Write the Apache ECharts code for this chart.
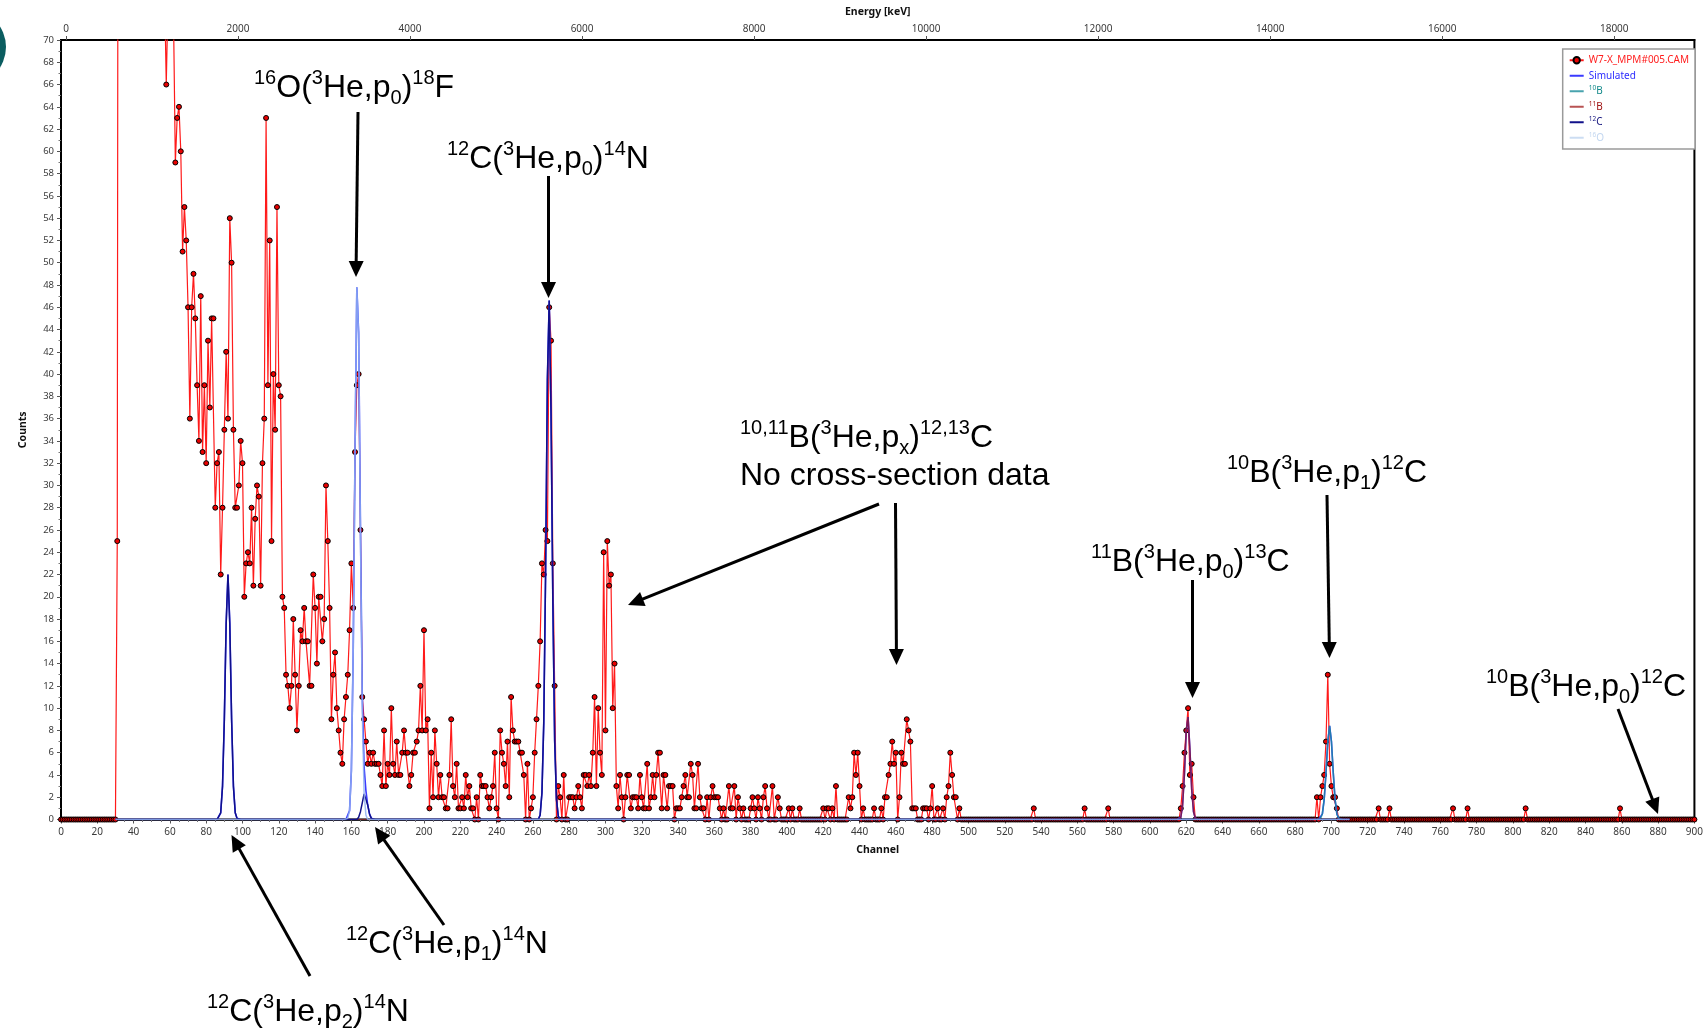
<!DOCTYPE html>
<html>
<head>
<meta charset="utf-8">
<title>W7-X MPM#005 spectrum</title>
<script src="https://cdn.jsdelivr.net/npm/echarts@6/dist/echarts.min.js"></script>
<style>
  html, body { margin: 0; padding: 0; background: #fff; }
  #chart { width: 1706px; height: 1033px; }
</style>
</head>
<body>
<div id="chart"></div>
<script>
// measured counts, one value per channel (index = channel), 20 channels per row
const counts = [
  0,0,0,0,0,0,0,0,0,0,0,0,0,0,0,0,0,0,0,0,                 // 0
  0,0,0,0,0,0,0,0,0,0,0,25,180,260,310,330,320,300,290,270, // 20
  250,240,220,200,190,170,160,150,140,130,120,112,105,98,92,86,80,75,66,74, // 40
  80,78,72,59,63,64,60,51,55,52,46,36,46,49,45,39,34,47,33,39, // 60
  32,43,37,45,45,28,32,33,22,28,35,42,36,54,50,35,28,28,30,34, // 80
  32,20,23,24,23,28,21,27,30,29,21,32,36,63,39,52,25,40,35,55, // 100
  39,38,20,19,13,12,10,12,18,13,8,12,17,16,19,16,16,12,12,22,  // 120
  19,14,20,20,16,18,30,25,19,9,13,15,10,8,6,5,9,11,13,17,      // 140
  23,19,33,39,40,26,11,9,7,5,6,5,6,5,5,5,4,3,8,3,              // 160
  5,4,10,5,4,7,4,4,6,8,6,6,3,4,6,6,7,8,12,8,                   // 180
  17,8,9,1,6,2,8,5,2,4,2,2,1,1,4,9,3,2,5,1,                    // 200
  1,2,1,4,2,3,1,1,0,2,0,4,3,3,3,2,1,2,3,6,                     // 220
  1,0,8,6,5,3,7,2,11,8,7,7,7,6,6,4,0,5,0,1,                    // 240
  2,6,9,12,16,23,22,26,25,46,43,23,12,0,3,2,0,4,0,0,           // 260
  2,2,2,1,2,3,2,1,4,4,3,4,3,6,11,3,10,6,4,24,                  // 280
  8,25,21,22,10,14,3,1,4,2,0,2,4,4,1,2,2,2,1,4,                // 300
  2,1,1,5,1,2,4,2,4,6,6,1,4,4,1,3,3,3,0,1,                     // 320
  1,1,2,3,4,2,2,5,4,1,1,5,2,1,1,0,2,0,2,3,                     // 340
  2,2,2,1,0,1,0,0,3,1,1,3,0,2,1,0,1,0,0,0,                     // 360
  1,2,1,0,2,1,0,2,3,1,0,0,3,0,0,2,1,0,0,0,                     // 380
  0,1,0,1,0,0,0,1,0,0,0,0,0,0,0,0,0,0,0,0,                     // 400
  1,0,1,1,0,1,0,3,0,0,0,0,0,0,2,1,2,6,4,6,                     // 420
  3,0,1,0,0,0,0,0,1,0,0,0,1,0,2,2,4,5,7,5,                     // 440
  6,0,2,6,5,5,9,8,7,1,1,1,0,0,0,1,1,1,0,1,                     // 460
  3,0,0,1,0,0,1,0,2,3,6,4,2,2,0,1,0,0,0,0,                     // 480
  0,0,0,0,0,0,0,0,0,0,0,0,0,0,0,0,0,0,0,0,                     // 500
  0,0,0,0,0,0,0,0,0,0,0,0,0,0,0,0,1,0,0,0,                     // 520
  0,0,0,0,0,0,0,0,0,0,0,0,0,0,0,0,0,0,0,0,                     // 540
  0,0,0,0,1,0,0,0,0,0,0,0,0,0,0,0,0,1,0,0,                     // 560
  0,0,0,0,0,0,0,0,0,0,0,0,0,0,0,0,0,0,0,0,                     // 580
  0,0,0,0,0,0,0,0,0,0,0,0,0,0,0,0,0,1,3,6,                     // 600
  8,10,4,5,2,0,0,0,0,0,0,0,0,0,0,0,0,0,0,0,                    // 620
  0,0,0,0,0,0,0,0,0,0,0,0,0,0,0,0,0,0,0,0,                     // 640
  0,0,0,0,0,0,0,0,0,0,0,0,0,0,0,0,0,0,0,0,                     // 660
  0,0,0,0,0,0,0,0,0,0,0,0,2,0,2,3,4,7,13,5,                    // 680
  3,2,2,1,0,0,0,0,0,0,0,0,0,0,0,0,0,0,0,0,                     // 700
  0,0,0,0,0,0,1,0,0,0,0,0,1,0,0,0,0,0,0,0,                     // 720
  0,0,0,0,0,0,0,0,0,0,0,0,0,0,0,0,0,0,0,0,                     // 740
  0,0,0,0,0,0,0,1,0,0,0,0,0,0,0,1,0,0,0,0,                     // 760
  0,0,0,0,0,0,0,0,0,0,0,0,0,0,0,0,0,0,0,0,                     // 780
  0,0,0,0,0,0,0,1,0,0,0,0,0,0,0,0,0,0,0,0,                     // 800
  0,0,0,0,0,0,0,0,0,0,0,0,0,0,0,0,0,0,0,0,                     // 820
  0,0,0,0,0,0,0,0,0,0,0,0,0,0,0,0,0,0,0,1,                     // 840
  0,0,0,0,0,0,0,0,0,0,0,0,0,0,0,0,0,0,0,0,                     // 860
  0,0,0,0,0,0,0,0,0,0,0,0,0,0,0,0,0,0,0,0,                     // 880
  0                                                            // 900
];

// simulated peaks: first channel + values per channel
const c12p2Start = 87;
const c12p2 = [0.1, 0.6, 3.0, 9.0, 17.6, 22.0, 17.6, 9.0, 3.0, 0.6, 0.1];
const o16Start = 158;
const o16 = [0.1, 0.8, 4.4, 15, 33, 47.8, 43.5, 25.5, 9.7, 2.4, 0.4];
const c12p1Start = 164;
const c12p1 = [0.2, 0.7, 1.5, 2.3, 2.2, 1.3, 0.5, 0.1];
const c12p0Start = 264;
const c12p0 = [0.4, 2.4, 8.7, 22, 39.5, 46.6, 36.5, 19.6, 7.1, 1.8, 0.3];
const b11Start = 617;
const b11 = [0.2, 1.3, 4.1, 7.9, 9.2, 6.4, 2.7, 0.7, 0.1];
const b10Start = 694;
const b10 = [0.1, 0.5, 1.8, 4.2, 7.0, 8.4, 7.0, 4.2, 1.8, 0.5, 0.1];
const simFrom = 30;
const simTo = 710;

// top axis ticks (keV)
const energyTicks = [0, 2000, 4000, 6000, 8000, 10000, 12000, 14000, 16000, 18000];
const energyAtCh0 = -58;
const energyAtCh900 = 18932;

// build component curves over the simulated range
function component(peaks) {
  const out = [];
  for (let ch = simFrom; ch <= simTo; ch++) {
    let v = 0;
    peaks.forEach(p => {
      const i = ch - p[0];
      if (i >= 0 && i < p[1].length) v += p[1][i];
    });
    out.push(v);
  }
  return out;
}
const b10Curve = component([[b10Start, b10]]);
const b11Curve = component([[b11Start, b11]]);
const c12Curve = component([[c12p2Start, c12p2], [c12p1Start, c12p1], [c12p0Start, c12p0]]);
const o16Curve = component([[o16Start, o16]]);
const simCurve = b10Curve.map((v, i) => v + b11Curve[i] + c12Curve[i] + o16Curve[i]);

const toPts = arr => arr.map((v, i) => [simFrom + i, v]);
const dataPts = counts.map((v, ch) => [ch, v]);

const myChart = echarts.init(document.getElementById('chart'));

// arrow annotation: shaft + filled head ending at (x2, y2)
function arrow(x1, y1, x2, y2) {
  const dx = x2 - x1, dy = y2 - y1;
  const len = Math.hypot(dx, dy), ux = dx / len, uy = dy / len;
  const hl = 16, hw = 7.5;
  const bx = x2 - ux * hl, by = y2 - uy * hl;
  return [
    { type: 'line', z: 100, shape: { x1: x1, y1: y1, x2: bx + ux, y2: by + uy },
      style: { stroke: '#000', lineWidth: 3 } },
    { type: 'polygon', z: 100,
      shape: { points: [[x2, y2], [bx - uy * hw, by + ux * hw], [bx + uy * hw, by - ux * hw]] },
      style: { fill: '#000' } }
  ];
}

const annFont = 'Arial, "Liberation Sans", sans-serif';
function label(x, y, text) {
  return {
    type: 'text', z: 100, x: x, y: y,
    style: {
      text: text, fill: '#000', font: '32px ' + annFont, lineHeight: 40,
      verticalAlign: 'top', align: 'left',
      rich: {
        sup: { fontSize: 20, lineHeight: 26, verticalAlign: 'top', fontFamily: annFont },
        sub: { fontSize: 20, lineHeight: 20, verticalAlign: 'bottom', fontFamily: annFont }
      }
    }
  };
}

const graphics = [
  { type: 'circle', z: 100, shape: { cx: -32, cy: 47, r: 38 }, style: { fill: '#0b5d60' } },
  label(254, 68, '{sup|16}O({sup|3}He,p{sub|0}){sup|18}F'),
  label(447, 139, '{sup|12}C({sup|3}He,p{sub|0}){sup|14}N'),
  label(740, 418, '{sup|10,11}B({sup|3}He,p{sub|x}){sup|12,13}C'),
  label(740, 456, 'No cross-section data'),
  label(1227, 453, '{sup|10}B({sup|3}He,p{sub|1}){sup|12}C'),
  label(1091, 542, '{sup|11}B({sup|3}He,p{sub|0}){sup|13}C'),
  label(1486, 667, '{sup|10}B({sup|3}He,p{sub|0}){sup|12}C'),
  label(346, 924, '{sup|12}C({sup|3}He,p{sub|1}){sup|14}N'),
  label(207, 992, '{sup|12}C({sup|3}He,p{sub|2}){sup|14}N'),
  ...arrow(358, 112, 356, 277),
  ...arrow(548.5, 176, 548.5, 298),
  ...arrow(879, 504, 628, 605),
  ...arrow(895.5, 503, 896.5, 665),
  ...arrow(1327, 495, 1329.5, 658),
  ...arrow(1192.5, 580, 1192.5, 698),
  ...arrow(1618, 709, 1658, 814),
  ...arrow(444, 925, 375, 827),
  ...arrow(310, 976, 231.5, 835)
];

const axisFont = '"Noto Sans", "Open Sans", sans-serif';
const legendColors = {
  'W7-X_MPM#005.CAM': '#ff1e1e',
  'Simulated': '#2d2dff',
  '10B': '#138a8a',
  '11B': '#a01515',
  '12C': '#14147e',
  '16O': '#c3d7f0'
};

const option = {
  animation: false,
  backgroundColor: '#fff',
  grid: { left: 61, right: 10, top: 40, bottom: 213.5, show: true, borderColor: '#000', borderWidth: 2 },
  legend: {
    orient: 'vertical', right: 11, top: 49,
    backgroundColor: '#fff', borderColor: '#9a9a9a', borderWidth: 1.5, borderRadius: 0,
    padding: [5, 6, 5, 6], itemGap: 3, itemWidth: 14, itemHeight: 8,
    textStyle: { fontFamily: axisFont, fontSize: 10, lineHeight: 12.5,
      rich: { s: { fontSize: 6.5, lineHeight: 9, verticalAlign: 'top' } } },
    formatter: name => {
      const m = name.match(/^(\d+)([A-Z].*)$/);
      return m ? '{s|' + m[1] + '}' + m[2] : name;
    },
    data: Object.keys(legendColors).map((n, i) => {
      const item = { name: n, textStyle: { color: legendColors[n] } };
      // only the measured spectrum shows a marker in the legend
      if (i > 0) item.itemStyle = { opacity: 0 };
      if (n === '16O') item.lineStyle = { color: legendColors[n] };
      return item;
    })
  },
  xAxis: [
    {
      type: 'value', position: 'bottom', min: 0, max: 900, interval: 20,
      name: 'Channel', nameLocation: 'middle', nameGap: 25,
      nameTextStyle: { fontFamily: axisFont, fontSize: 10.5, fontWeight: 'bold', color: '#111' },
      axisLine: { show: true, lineStyle: { color: '#000', width: 1.5 } },
      axisTick: { show: true, length: 4, lineStyle: { color: '#555' } },
      minorTick: { show: true, splitNumber: 4, length: 2.5, lineStyle: { color: '#777' } },
      axisLabel: { fontFamily: axisFont, fontSize: 10, color: '#3a3a3a', margin: 8 },
      splitLine: { show: false }
    },
    {
      type: 'value', position: 'top', min: energyAtCh0, max: energyAtCh900,
      name: 'Energy [keV]', nameLocation: 'middle', nameGap: 22,
      nameTextStyle: { fontFamily: axisFont, fontSize: 10.5, fontWeight: 'bold', color: '#111' },
      axisLine: { show: true, lineStyle: { color: '#000', width: 2 } },
      axisTick: { show: true, length: 4, customValues: energyTicks, lineStyle: { color: '#555' } },
      axisLabel: { fontFamily: axisFont, fontSize: 10, color: '#3a3a3a', margin: 6,
        customValues: energyTicks, formatter: v => String(v) },
      splitLine: { show: false }
    }
  ],
  yAxis: {
    type: 'value', min: 0, max: 70, interval: 2,
    name: 'Counts', nameLocation: 'middle', nameGap: 32, nameRotate: 90,
    nameTextStyle: { fontFamily: axisFont, fontSize: 10.5, fontWeight: 'bold', color: '#111' },
    axisLine: { show: true, lineStyle: { color: '#000', width: 2 } },
    axisTick: { show: true, length: 4, lineStyle: { color: '#555' } },
    minorTick: { show: true, splitNumber: 2, length: 2.5, lineStyle: { color: '#777' } },
    axisLabel: { fontFamily: axisFont, fontSize: 9.5, color: '#3a3a3a', margin: 7 },
    splitLine: { show: false }
  },
  series: [
    {
      name: 'W7-X_MPM#005.CAM', type: 'line', xAxisIndex: 0, data: dataPts, z: 2,
      symbol: 'circle', symbolSize: 5, showAllSymbol: true,
      lineStyle: { color: '#ff1a1a', width: 1.2 },
      itemStyle: { color: '#e80000', borderColor: '#000', borderWidth: 1 }
    },
    { name: 'Simulated', type: 'line', xAxisIndex: 0, data: toPts(simCurve), z: 3, symbol: 'none',
      lineStyle: { color: '#3a3aff', width: 1.6 }, itemStyle: { color: '#3a3aff' } },
    { name: '10B', type: 'line', xAxisIndex: 0, data: toPts(b10Curve), z: 4, symbol: 'none',
      lineStyle: { color: '#1b8c9a', width: 1.5, opacity: 0.8 }, itemStyle: { color: '#1b8c9a' } },
    { name: '11B', type: 'line', xAxisIndex: 0, data: toPts(b11Curve), z: 5, symbol: 'none',
      lineStyle: { color: '#9a0a0a', width: 1.5, opacity: 0.7 }, itemStyle: { color: '#9a0a0a' } },
    { name: '12C', type: 'line', xAxisIndex: 0, data: toPts(c12Curve), z: 6, symbol: 'none',
      lineStyle: { color: '#10108a', width: 1.5 }, itemStyle: { color: '#10108a' } },
    { name: '16O', type: 'line', xAxisIndex: 0, data: toPts(o16Curve), z: 7, symbol: 'none',
      lineStyle: { color: '#8fb0f0', width: 1.5, opacity: 0.85 }, itemStyle: { color: '#8fb0f0' } }
  ],
  graphic: graphics
};

myChart.setOption(option);
window.addEventListener('resize', () => myChart.resize());
</script>
</body>
</html>
